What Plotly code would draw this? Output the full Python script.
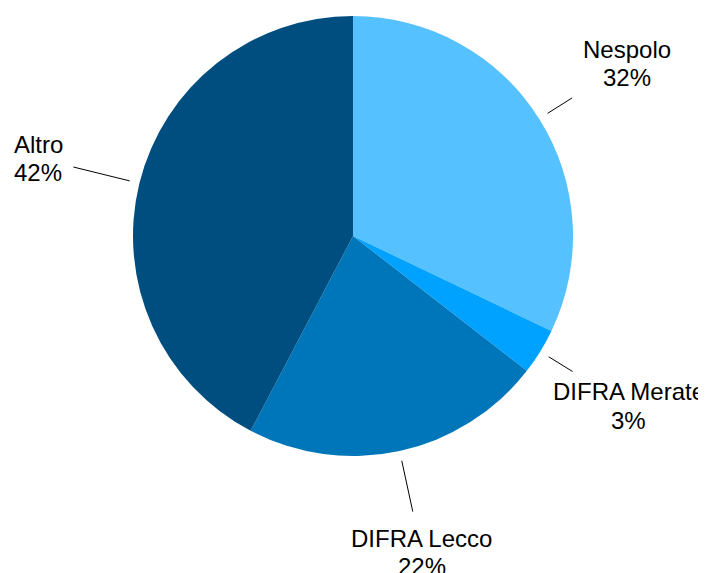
import math
import plotly.graph_objects as go

# ---- data ----
labels = ["Nespolo", "DIFRA Merate", "DIFRA Lecco", "Altro"]
values = [32.1, 3.4, 22.2, 42.3]
colors = ["#56C1FF", "#00A2FF", "#0076BA", "#004D7F"]

# ---- layout / style ----
# the page body has an 8px margin, so the figure is sized to fill the rest of the window
W, H = 698, 565
CX, CY, R = 345, 228, 220          # pie centre & radius in figure pixels
LABEL_R = 324                      # radius of label block centre
LINE_R0 = 230                      # leader line start radius
LINE_R1 = {"Nespolo": 259, "DIFRA Merate": 258, "DIFRA Lecco": 282, "Altro": 288}
LINE_GAP = 28.5                    # distance between the two text lines
FONT = dict(family="Liberation Sans, Arial, Helvetica, sans-serif", size=24, color="#000000")


def px(x):
    return x / W


def py(y):
    return 1 - y / H


fig = go.Figure(go.Pie(
    labels=labels,
    values=values,
    marker=dict(colors=colors, line=dict(width=0)),
    sort=False,
    direction="clockwise",
    rotation=0,
    textinfo="none",
    hoverinfo="label+percent",
    showlegend=False,
    domain=dict(x=[px(CX - R), px(CX + R)], y=[py(CY + R), py(CY - R)]),
))

total = sum(values)
annotations = []
shapes = []
cum = 0.0
for lab, val in zip(labels, values):
    mid = (cum + val / 2) / total * 2 * math.pi
    cum += val
    sx, sy = math.sin(mid), -math.cos(mid)
    # leader line
    x0, y0 = CX + LINE_R0 * sx, CY + LINE_R0 * sy
    x1, y1 = CX + LINE_R1[lab] * sx, CY + LINE_R1[lab] * sy
    shapes.append(dict(type="line", xref="paper", yref="paper",
                       x0=px(x0), y0=py(y0), x1=px(x1), y1=py(y1),
                       line=dict(color="#000000", width=1)))
    # label block
    bx, by = CX + LABEL_R * sx, CY + LABEL_R * sy
    pct = f"{round(val / total * 100)}%"
    for txt, dy in ((lab, -LINE_GAP / 2), (pct, LINE_GAP / 2)):
        annotations.append(dict(
            x=px(bx), y=py(by + dy), xref="paper", yref="paper",
            text=txt, showarrow=False, xanchor="center", yanchor="middle",
            font=FONT,
        ))

fig.update_layout(
    width=W, height=H,
    margin=dict(l=0, r=0, t=0, b=0),
    paper_bgcolor="#FFFFFF",
    plot_bgcolor="#FFFFFF",
    annotations=annotations,
    shapes=shapes,
)

fig.write_html("out.html")
